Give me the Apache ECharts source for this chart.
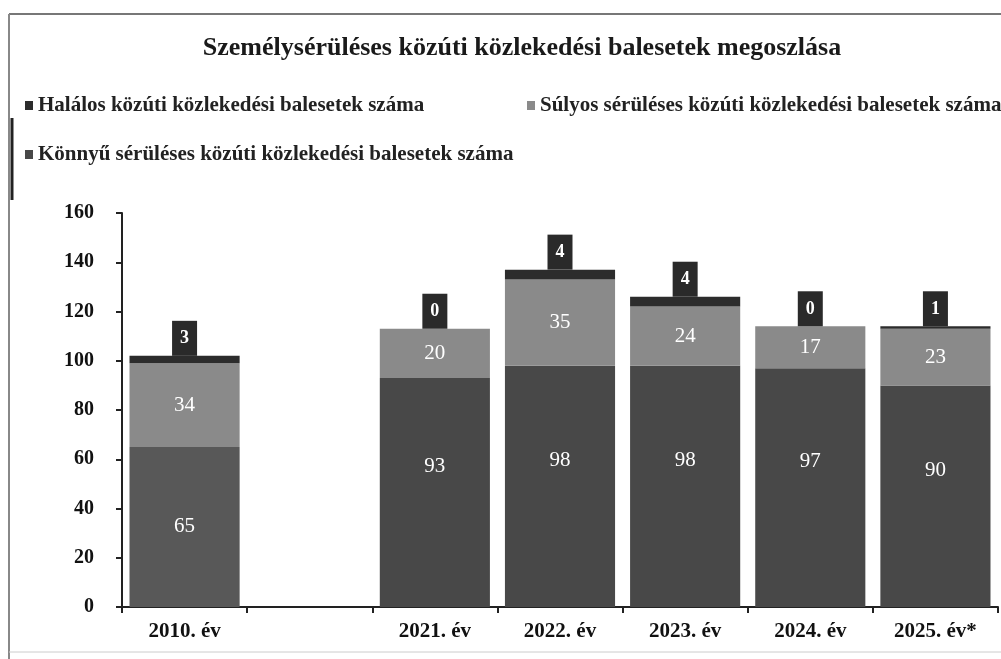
<!DOCTYPE html>
<html>
<head>
<meta charset="utf-8">
<script src="https://cdn.jsdelivr.net/npm/echarts@6/dist/echarts.min.js"></script>
<style>
  html, body { margin: 0; padding: 0; background: #fff; }
  #chart { width: 1001px; height: 659px; }
</style>
</head>
<body>
<div id="chart"></div>
<script>
'use strict';

const categories = ['2010. év', '', '2021. év', '2022. év', '2023. év', '2024. év', '2025. év*'];
const halalos = [3, null, 0, 4, 4, 0, 1];
const sulyos = [34, null, 20, 35, 24, 17, 23];
const konnyu = [65, null, 93, 98, 98, 97, 90];
const yTicks = [0, 20, 40, 60, 80, 100, 120, 140, 160];

const names = [
  'Halálos közúti közlekedési balesetek száma',
  'Súlyos sérüléses közúti közlekedési balesetek száma',
  'Könnyű sérüléses közúti közlekedési balesetek száma'
];

const serif = '"Liberation Serif", "DejaVu Serif", serif';
const chart = echarts.init(document.getElementById('chart'));

const konnyuData = konnyu.map((v, i) => ({
  value: v,
  itemStyle: i === 0 ? { color: '#585858' } : undefined,
  label: i === 0 ? {} : { offset: [0, -26] }
}));

const legendBase = {
  itemWidth: 8,
  itemHeight: 9,
  itemGap: 6,
  icon: 'rect',
  textStyle: { fontFamily: serif, fontWeight: 'bold', fontSize: 21, color: '#222' }
};

const option = {
  animation: false,
  backgroundColor: '#fff',
  title: {
    text: 'Személysérüléses közúti közlekedési balesetek megoszlása',
    left: 517,
    textAlign: 'center',
    top: 30,
    textStyle: { fontFamily: serif, fontWeight: 'bold', fontSize: 26, color: '#1a1a1a' }
  },
  legend: [
    Object.assign({ data: [names[0]], left: 20, top: 90 }, legendBase),
    Object.assign({ data: [names[1]], left: 522, top: 90 }, legendBase),
    Object.assign({ data: [names[2]], left: 20, top: 139 }, legendBase)
  ],
  graphic: [
    { type: 'line', shape: { x1: 9, y1: 14, x2: 1001, y2: 14 }, style: { stroke: '#777', lineWidth: 2 } },
    { type: 'line', shape: { x1: 9, y1: 14, x2: 9, y2: 659 }, style: { stroke: '#888', lineWidth: 2 } },
    { type: 'line', shape: { x1: 12, y1: 118, x2: 12, y2: 200 }, style: { stroke: '#222', lineWidth: 3 } },
    { type: 'line', shape: { x1: 9, y1: 652, x2: 1001, y2: 652 }, style: { stroke: '#ccc', lineWidth: 1 } }
  ],
  grid: { left: 122, right: 3, top: 213, bottom: 52, containLabel: false },
  xAxis: {
    type: 'category',
    data: categories,
    axisLine: { lineStyle: { color: '#222', width: 2 } },
    axisTick: { show: true, length: 6, lineStyle: { color: '#222', width: 2 } },
    axisLabel: { fontFamily: serif, fontWeight: 'bold', fontSize: 21, color: '#111', margin: 14 }
  },
  yAxis: {
    type: 'value',
    min: yTicks[0],
    max: yTicks[yTicks.length - 1],
    interval: 20,
    splitLine: { show: false },
    axisLine: { show: true, lineStyle: { color: '#222', width: 2 } },
    axisTick: { show: true, length: 6, lineStyle: { color: '#222', width: 2 } },
    axisLabel: { fontFamily: serif, fontWeight: 'bold', fontSize: 20, color: '#111', margin: 28 }
  },
  series: [
    {
      name: names[2],
      type: 'bar',
      stack: 'total',
      barCategoryGap: '12%',
      data: konnyuData,
      itemStyle: { color: '#484848' },
      label: {
        show: true,
        position: 'inside',
        color: '#fff',
        fontFamily: serif,
        fontSize: 21
      }
    },
    {
      name: names[1],
      type: 'bar',
      stack: 'total',
      data: sulyos,
      itemStyle: { color: '#8a8a8a' },
      label: {
        show: true,
        position: 'inside',
        color: '#fff',
        fontFamily: serif,
        fontSize: 21
      }
    },
    {
      name: names[0],
      type: 'bar',
      stack: 'total',
      data: halalos,
      itemStyle: { color: '#2c2c2c' },
      label: {
        show: true,
        position: 'top',
        distance: 0,
        color: '#fff',
        backgroundColor: '#2a2a2a',
        padding: [9, 8, 8, 8],
        fontFamily: serif,
        fontWeight: 'bold',
        fontSize: 18
      }
    }
  ]
};

chart.setOption(option);
</script>
</body>
</html>
